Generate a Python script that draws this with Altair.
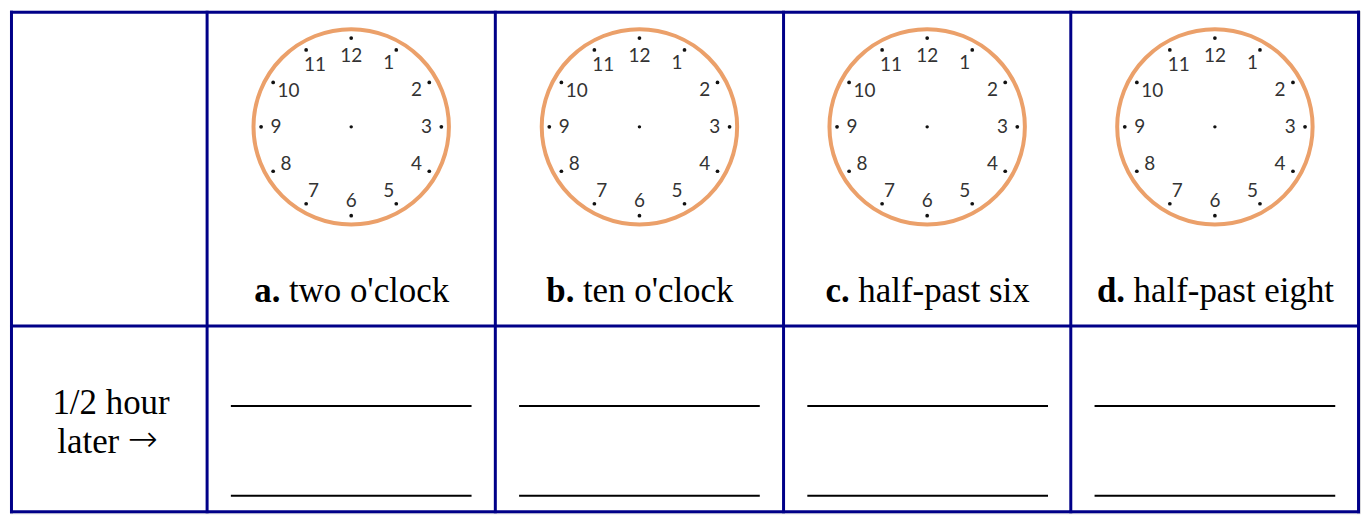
import math
import altair as alt
import pandas as pd

# ---- data ----
letters = ["a.", "b.", "c.", "d."]
times = ["two o'clock", "ten o'clock", "half-past six", "half-past eight"]
row_label = ["1/2 hour", "later"]
arrow = "\u2192"
clock_numbers = list(range(1, 13))
col_edges = [204, 495, 786, 1076, 1367]      # column dividers (table px)
row_edges = [6.5, 328, 518.5]                # row dividers (table px)

# ---- layout helpers ----
W, H = 1354, 504
X0, X1, Y0, Y1 = 5, 1368, 5, 520
FS = 35
# Times (Liberation Serif) advance widths, em units
TW = {' ': .25, 'a': .444, 'b': .5, 'c': .444, 'd': .5, 'e': .444, 'f': .333, 'g': .5,
      'h': .5, 'i': .278, 'k': .5, 'l': .278, 'n': .5, 'o': .5, 'p': .5, 'r': .333,
      's': .389, 't': .278, 'w': .722, 'x': .5, '-': .333, "'": .18, '.': .25}
TWB = {'a': .5, 'b': .556, 'c': .444, 'd': .556, '.': .25}


def width(s, table):
    return sum(table.get(ch, .5) for ch in s) * FS


centers = [(col_edges[i] + col_edges[i + 1]) / 2 for i in range(4)]

xs = alt.Scale(domain=[X0, X1], nice=False, zero=False)
ys = alt.Scale(domain=[Y0, Y1], nice=False, zero=False, reverse=True)


def X(f="x"):
    return alt.X(f"{f}:Q", scale=xs, axis=None)


def Y(f="y"):
    return alt.Y(f"{f}:Q", scale=ys, axis=None)


# grid lines
rules = []
for x in [6.5] + col_edges[:-1] + [1366.5]:
    rules.append(dict(x=x, x2=x, y=X0, y2=Y1))
for y in row_edges:
    rules.append(dict(x=X0, x2=X1, y=y, y2=y))
rules = pd.DataFrame(rules)
grid = alt.Chart(rules).mark_rule(color="#000088", strokeWidth=3).encode(
    x=X(), x2="x2:Q", y=Y(), y2="y2:Q")

# answer lines
ans = []
for i in range(4):
    for y in [410, 502]:
        ans.append(dict(x=col_edges[i] + 24, x2=col_edges[i] + 267, y=y, y2=y))
ans = pd.DataFrame(ans)
answer = alt.Chart(ans).mark_rule(color="#000000", strokeWidth=2).encode(
    x=X(), x2="x2:Q", y=Y(), y2="y2:Q")

# clocks
CY = 124
R_FACE = 98
faces = pd.DataFrame(dict(x=centers, y=[CY] * 4))
face = alt.Chart(faces).mark_point(shape="circle", filled=False, size=(2 * R_FACE) ** 2,
                                   color="#EBA06A", strokeWidth=4, opacity=1).encode(x=X(), y=Y())
center_dot = alt.Chart(faces).mark_point(shape="circle", filled=True, size=12,
                                         color="#111111", opacity=1).encode(x=X(), y=Y())

nums, dots = [], []
for cx in centers:
    for n in clock_numbers:
        a = math.radians(n * 30)
        r = 73 if n >= 10 else 76
        nums.append(dict(x=cx + r * math.sin(a), y=CY - r * math.cos(a), t=str(n)))
        dots.append(dict(x=cx + 91 * math.sin(a), y=CY - 91 * math.cos(a)))
nums = pd.DataFrame(nums)
dots = pd.DataFrame(dots)
numerals = alt.Chart(nums).mark_text(font="Lato", fontSize=19, color="#333333",
                                     baseline="middle", align="center").encode(
    x=X(), y=Y(), text="t:N")
tick_dots = alt.Chart(dots).mark_point(shape="circle", filled=True, size=14,
                                       color="#111111", opacity=1).encode(x=X(), y=Y())

# captions
bold_rows, reg_rows = [], []
for cx, L, T in zip(centers, letters, times):
    bw = width(L, TWB) + .25 * FS
    tot = bw + width(T, TW)
    start = cx - tot / 2
    bold_rows.append(dict(x=start, y=303, t=L))
    reg_rows.append(dict(x=start + bw, y=303, t=T))
cap_b = alt.Chart(pd.DataFrame(bold_rows)).mark_text(
    font="Liberation Serif", fontSize=FS, fontWeight="bold", align="left",
    baseline="alphabetic", color="#000000").encode(x=X(), y=Y(), text="t:N")
cap_r = alt.Chart(pd.DataFrame(reg_rows)).mark_text(
    font="Liberation Serif", fontSize=FS, align="left",
    baseline="alphabetic", color="#000000").encode(x=X(), y=Y(), text="t:N")

rl = pd.DataFrame(dict(x=[107, 84], y=[418, 458], t=row_label))
row_txt = alt.Chart(rl).mark_text(font="Liberation Serif", fontSize=FS, align="center",
                                  baseline="alphabetic", color="#000000").encode(
    x=X(), y=Y(), text="t:N")
arr = pd.DataFrame(dict(x=[124], y=[445], t=[arrow]))
arrow_txt = alt.Chart(arr).mark_text(font="DejaVu Sans", fontSize=36, fontWeight=200,
                                     align="left", baseline="middle",
                                     color="#000000").encode(x=X(), y=Y(), text="t:N")

chart = alt.layer(face, tick_dots, center_dot, numerals, cap_b, cap_r, row_txt, arrow_txt,
                  answer, grid).properties(
    width=W, height=H, padding=0
).configure_view(stroke=None).configure(background="white")

chart.save("out.html", embed_options={"renderer": "svg", "actions": False})
